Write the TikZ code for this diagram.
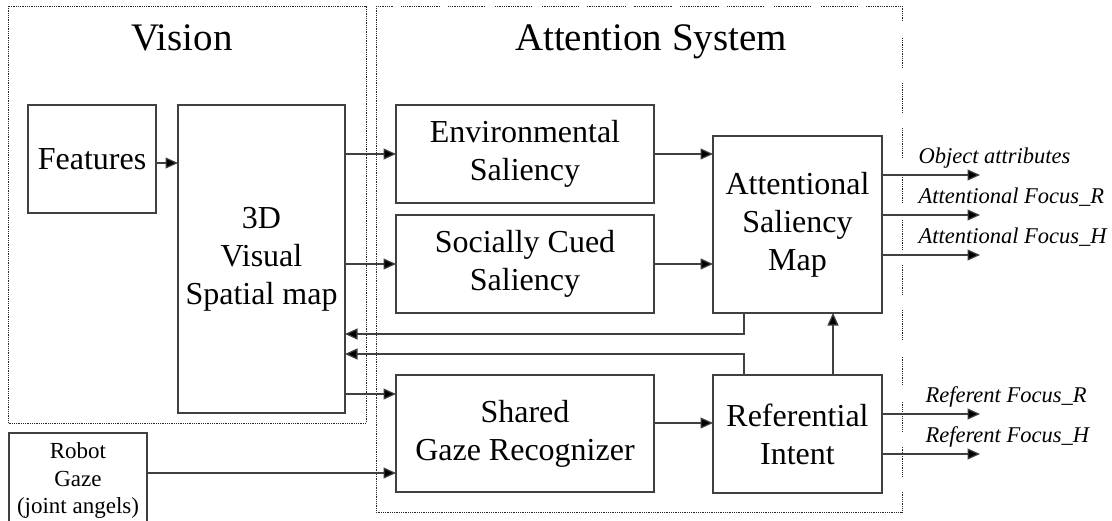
\documentclass[tikz,border=0pt]{standalone}
\usepackage{fontspec}
\setmainfont{Liberation Serif}
\usetikzlibrary{arrows.meta}
\begin{document}
\begin{tikzpicture}[x=1pt,y=-1pt,
  box/.style={draw=black!75, line width=1.2pt, inner sep=0pt, outer sep=0pt,
    align=center, font=\fontsize{32}{38}\selectfont},
  wire/.style={draw=black!75, line width=1.2pt},
  arr/.style={wire, -{Triangle[length=12.5pt,width=11pt,fill=black]}},
  region/.style={draw=black!85, line width=1pt, dash pattern=on 1pt off 0.8pt},
  title/.style={font=\fontsize{39}{44}\selectfont, anchor=base},
  outlabel/.style={font=\fontsize{22.5}{26}\selectfont\itshape, anchor=base west}
]
\useasboundingbox (0,0) rectangle (1112,520);
\fill[white] (0,0) rectangle (1112,520);

% group frames
\draw[region] (8,6) rectangle (366,423);
\draw[region] (376,6) rectangle (902,512);
\draw[white, line width=2pt, dash pattern=on 8pt off 38.5pt, dash phase=29.5pt] (376,6) -- (902,6);
\draw[white, line width=2pt, dash pattern=on 15pt off 30.5pt, dash phase=29.5pt] (902,6) -- (902,512);

\node[title] (tvis) at (182,50) {Vision};
\node[title] (tatt) at (651,50) {Attention System};

% blocks
\node[box, minimum width=128pt, minimum height=108pt] (feat) at (92,159) {Features};
\node[box, minimum width=167pt, minimum height=308pt] (spat) at (261.5,259) {3D\\Visual\\Spatial map};
\node[box, minimum width=258pt, minimum height=98pt] (env) at (525,154) {Environmental\\Saliency};
\node[box, minimum width=258pt, minimum height=98pt] (soc) at (525,264) {Socially Cued\\Saliency};
\node[box, minimum width=258pt, minimum height=117pt] (sgr) at (525,433.5) {Shared\\Gaze Recognizer};
\node[box, minimum width=169pt, minimum height=177pt] (asm) at (797.5,224.5) {Attentional\\Saliency\\Map};
\node[box, minimum width=169pt, minimum height=118pt] (ref) at (797.5,434) {Referential\\Intent};
\node[box, minimum width=138pt, minimum height=95pt, font=\fontsize{23}{27.5}\selectfont] (rob) at (78,480.5) {Robot\\Gaze\\(joint angels)};

% forward connections
\draw[arr] (feat.east |- 0,163) -- (spat.west |- 0,163);
\draw[arr] (spat.east |- env.west) -- (env.west);
\draw[arr] (spat.east |- soc.west) -- (soc.west);
\draw[arr] (spat.east |- 0,394) -- (sgr.west |- 0,394);
\draw[arr] (rob.east |- 0,473) -- (sgr.west |- 0,473);
\draw[arr] (env.east) -- (asm.west |- env.east);
\draw[arr] (soc.east) -- (asm.west |- soc.east);
\draw[arr] (sgr.east |- 0,423) -- (ref.west |- 0,423);
\draw[arr] (ref.north -| 833,0) -- (asm.south -| 833,0);

% feedback to the spatial map
\draw[arr] (asm.south -| 744,0) |- (spat.east |- 0,334);
\draw[arr] (ref.north -| 744,0) |- (spat.east |- 0,354);

% outputs
\coordinate (o1) at (980,175);
\coordinate (o2) at (980,215);
\coordinate (o3) at (980,255);
\coordinate (o4) at (980,414);
\coordinate (o5) at (980,454);
\draw[arr] (asm.east |- o1) -- (o1);
\draw[arr] (asm.east |- o2) -- (o2);
\draw[arr] (asm.east |- o3) -- (o3);
\draw[arr] (ref.east |- o4) -- (o4);
\draw[arr] (ref.east |- o5) -- (o5);

\node[outlabel] (l1) at (915,163) {Object attributes};
\node[outlabel] (l2) at (915,203) {Attentional Focus\_R};
\node[outlabel] (l3) at (915,243) {Attentional Focus\_H};
\node[outlabel] (l4) at (922,402) {Referent Focus\_R};
\node[outlabel] (l5) at (922,442) {Referent Focus\_H};
\end{tikzpicture}
\end{document}
